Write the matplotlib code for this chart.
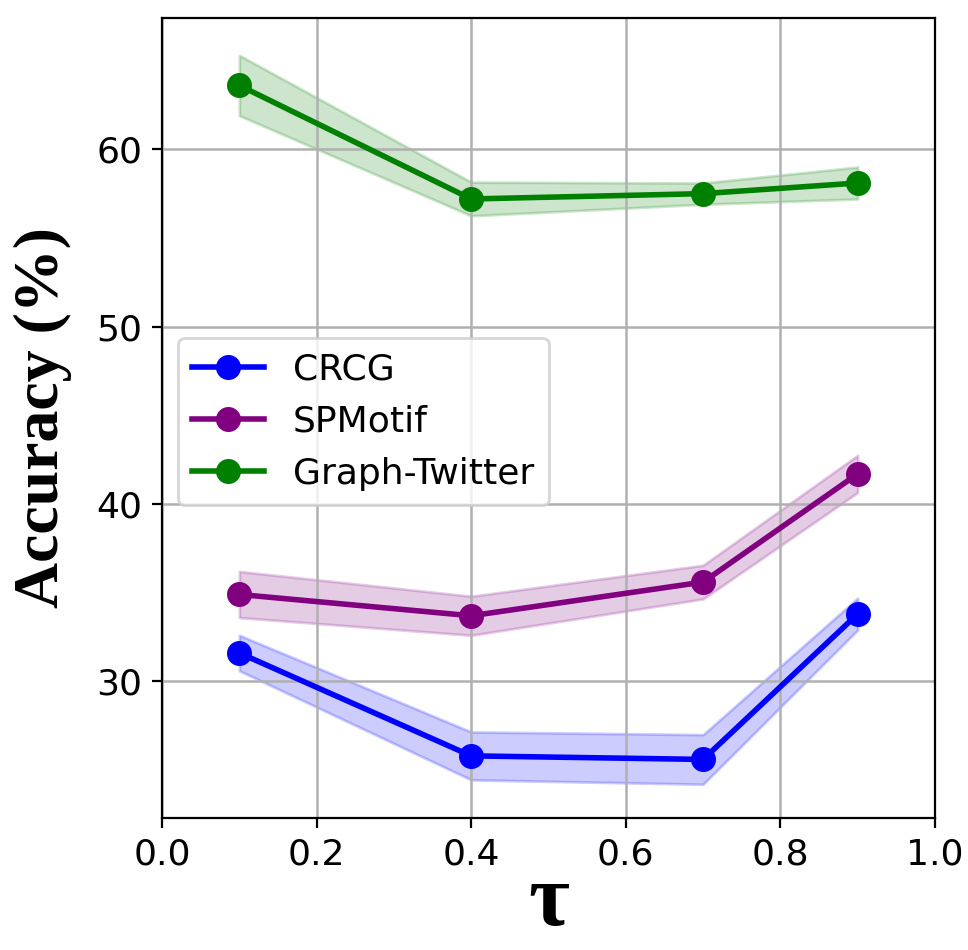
import numpy as np
import matplotlib.pyplot as plt

# tau values and accuracy (mean, std) per dataset
tau = [0.1, 0.4, 0.7, 0.9]
crcg_mean = [31.6, 25.8, 25.6, 33.8]
crcg_std = [1.0, 1.35, 1.4, 0.9]
spmotif_mean = [34.9, 33.7, 35.6, 41.7]
spmotif_std = [1.3, 1.1, 0.95, 1.05]
twitter_mean = [63.6, 57.2, 57.5, 58.1]
twitter_std = [1.7, 0.95, 0.6, 0.9]

series = [
    ("CRCG", crcg_mean, crcg_std, "blue"),
    ("SPMotif", spmotif_mean, spmotif_std, "purple"),
    ("Graph-Twitter", twitter_mean, twitter_std, "green"),
]

fig = plt.figure(figsize=(4.84, 4.75), dpi=200)
ax = fig.add_axes([0.1674, 0.139, 0.7985, 0.842])

for name, m, s, c in series:
    m = np.array(m)
    s = np.array(s)
    ax.plot(tau, m, marker="o", color=c, label=name, linewidth=2.0, markersize=8)
    ax.fill_between(tau, m - s, m + s, color=c, alpha=0.2)

ax.set_xlim(0, 1)
ax.set_ylim(22.3, 67.4)
ax.set_yticks([30, 40, 50, 60])
ax.grid(True, linewidth=0.9)
ax.tick_params(labelsize=13)

ax.set_xlabel("τ", fontsize=32, fontweight="bold", family="Liberation Serif", labelpad=-3)
ax.set_ylabel("Accuracy (%)", fontsize=23, fontweight="bold", family="Liberation Serif", labelpad=9)

ax.legend(loc="upper left", bbox_to_anchor=(0.02, 0.60), borderaxespad=0, fontsize=13)

fig.savefig("out.png", dpi=200)
